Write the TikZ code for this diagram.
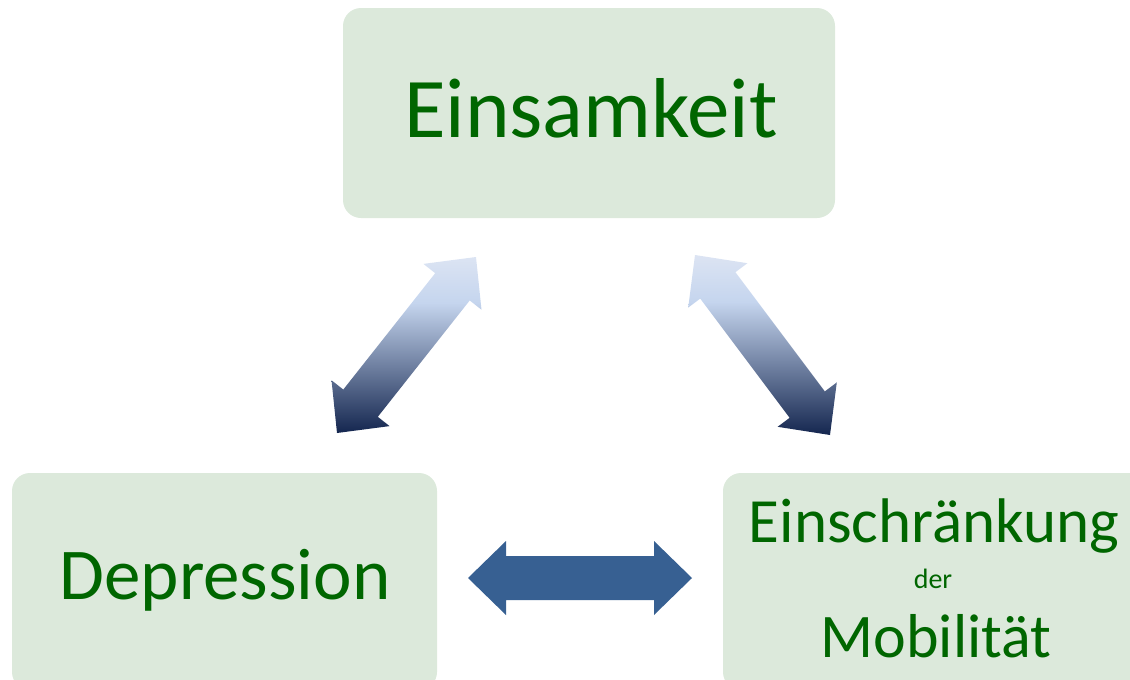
\documentclass[tikz,border=0pt]{standalone}
\usepackage{fontspec}
\setmainfont{Carlito}
\usetikzlibrary{calc}
\definecolor{boxfill}{HTML}{DCE9DB}
\definecolor{txtgreen}{HTML}{006600}
\definecolor{arrowblue}{HTML}{376092}
\definecolor{gradtop}{HTML}{DCE4F3}
\definecolor{gradmid}{HTML}{C5D5EE}
\definecolor{gradbot}{HTML}{14264F}
\pgfdeclareverticalshading{arrgrad}{100bp}{color(0bp)=(gradbot); color(25bp)=(gradbot); color(62bp)=(gradmid); color(75bp)=(gradtop); color(100bp)=(gradtop)}
\tikzset{
  box/.style={fill=boxfill, rounded corners=18pt, draw=none},
  lbl/.style={text=txtgreen, anchor=base, inner sep=0pt},
  gradarrow/.style={shading=arrgrad},
  flatarrow/.style={fill=arrowblue},
}
\newcommand{\dblarrow}[3]{%
  \path[#1] (#2)
    -- ($(#2)!38pt!(#3)!37pt!90:(#3)$)
    -- ($(#2)!38pt!(#3)!22pt!90:(#3)$)
    -- ($(#3)!38pt!(#2)!22pt!-90:(#2)$)
    -- ($(#3)!38pt!(#2)!37pt!-90:(#2)$)
    -- (#3)
    -- ($(#3)!38pt!(#2)!37pt!90:(#2)$)
    -- ($(#3)!38pt!(#2)!22pt!90:(#2)$)
    -- ($(#2)!38pt!(#3)!22pt!-90:(#3)$)
    -- ($(#2)!38pt!(#3)!37pt!-90:(#3)$)
    -- cycle;}
\begin{document}
\begin{tikzpicture}[x=1pt,y=-1pt]
  \useasboundingbox (0,0) rectangle (1130,680);
  \clip (0,0) rectangle (1130,680);
  % boxes
  \path[box] (343,8) rectangle (835,218);
  \path[box] (12,473) rectangle (437,690);
  \path[box] (723,473) rectangle (1150,690);
  % texts
  \node[lbl, font=\fontsize{85}{85}\selectfont] (einsamkeit) at (591,137) {Einsamkeit};
  \node[lbl, font=\fontsize{73}{73}\selectfont] (depression) at (225,599) {Depression};
  \node[lbl, font=\fontsize{63}{63}\selectfont] (einschr) at (934,542) {Einschränkung};
  \node[lbl, font=\fontsize{28}{28}\selectfont] (der) at (933,588) {der};
  \node[lbl, font=\fontsize{62}{62}\selectfont] (mobil) at (936,657) {Mobilität};
  % arrow end points
  \coordinate (lA) at (337,433);
  \coordinate (lB) at (476,257);
  \coordinate (rA) at (695,255);
  \coordinate (rB) at (830,435);
  \coordinate (hA) at (468,578);
  \coordinate (hB) at (692,578);
  \dblarrow{gradarrow}{lA}{lB}
  \dblarrow{gradarrow}{rA}{rB}
  \dblarrow{flatarrow}{hA}{hB}
\end{tikzpicture}
\end{document}
